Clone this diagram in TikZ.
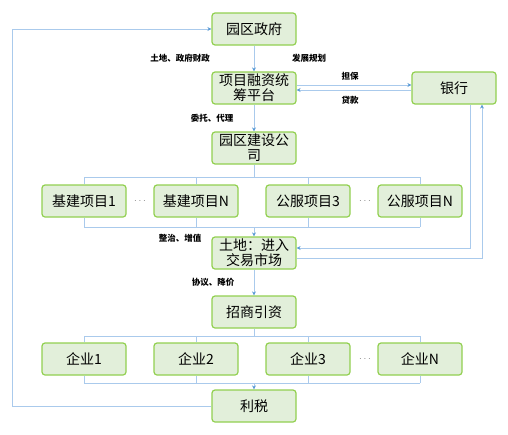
\documentclass[tikz,border=0pt]{standalone}
\usepackage{fontspec}
\setmainfont{Noto Sans CJK SC}
\usepackage{xcolor}
\definecolor{boxfill}{RGB}{226,239,218}
\definecolor{boxline}{RGB}{146,208,80}
\definecolor{wire}{RGB}{170,202,236}
\definecolor{tip}{RGB}{91,155,213}
\usetikzlibrary{arrows.meta,calc}
\tikzset{
  box/.style={draw=boxline,fill=boxfill,rounded corners=3pt,line width=1.2pt,%
    minimum width=84pt,minimum height=32pt,inner sep=1pt,align=center,%
    font=\fontsize{14}{15}\selectfont},
  note/.style={font=\fontsize{8.5}{10}\selectfont\bfseries,inner sep=1pt},
  dots/.style={text=gray,inner sep=1pt},
  link/.style={draw=wire,line width=1pt},
  flow/.style={link,-{Stealth[length=4pt,width=4pt,color=tip]}},
}

\begin{document}
\begin{tikzpicture}[x=1pt,y=-1pt]
\useasboundingbox (0,0) rectangle (508,434);
\node[box] (gov)    at (254,29)  {园区政府};
\node[box] (plat)   at (254,88)  {项目融资统\\筹平台};
\node[box] (bank)   at (454,88)  {银行};
\node[box] (build)  at (254,148) {园区建设公\\司};
\node[box] (p1)     at (84,201)  {基建项目1};
\node[box] (p2)     at (196,201) {基建项目N};
\node[box] (p3)     at (308,201) {公服项目3};
\node[box] (p4)     at (420,201) {公服项目N};
\node[box] (land)   at (254,253) {土地：进入\\交易市场};
\node[box] (invest) at (254,312) {招商引资};
\node[box] (e1)     at (84,359)  {企业1};
\node[box] (e2)     at (196,359) {企业2};
\node[box] (e3)     at (308,359) {企业3};
\node[box] (e4)     at (420,359) {企业N};
\node[box] (tax)    at (254,406) {利税};
\node[dots] (d1) at (140,201) {$\cdots$};
\node[dots] (d2) at (365,201) {$\cdots$};
\node[dots] (d3) at (365,359) {$\cdots$};
% labels
\node[note] (landfin) at (180,58)  {土地、政府财政};
\node[note] (plan)    at (309,58)  {发展规划};
\node[note] (guar)    at (350,76)  {担保};
\node[note] (loan)    at (350,100) {贷款};
\node[note] (agent)   at (212,118) {委托、代理};
\node[note] (renew)   at (180,238) {整治、增值};
\node[note] (deal)    at (213,282) {协议、降价};
% bus lines
\coordinate (top1) at (254,177);
\coordinate (bot1) at (254,227);
\coordinate (top2) at (254,336);
\coordinate (bot2) at (254,383);
\coordinate (loop) at (12,0);
\draw[flow] (gov) -- (plat);
\draw[flow] ([yshift=3pt]plat.east) -- ([yshift=3pt]bank.west);
\draw[flow] ([yshift=-2pt]bank.west) -- ([yshift=-2pt]plat.east);
\draw[flow] (plat) -- (build);
\draw[link] (build) -- (top1);
\draw[link] (p1.north |- top1) -- (p4.north |- top1);
\draw[link] (p1.south |- bot1) -- (p4.south |- bot1);
\foreach \p in {p1,p2,p3,p4} {
  \draw[link] (\p.north) -- (\p.north |- top1);
  \draw[link] (\p.south) -- (\p.south |- bot1);
}
\draw[flow] (bot1) -- (land);
\draw[flow] ([xshift=16pt]bank.south) |- ([yshift=5pt]land.east);
\draw[flow] ([yshift=-5pt]land.east) -| ([xshift=28pt]bank.south);
\draw[flow] (land) -- (invest);
\draw[link] (invest) -- (top2);
\draw[link] (e1.north |- top2) -- (e4.north |- top2);
\draw[link] (e1.south |- bot2) -- (e4.south |- bot2);
\foreach \e in {e1,e2,e3,e4} {
  \draw[link] (\e.north) -- (\e.north |- top2);
  \draw[link] (\e.south) -- (\e.south |- bot2);
}
\draw[flow] (bot2) -- (tax);
\draw[flow] (tax.west) -- (tax.west -| loop) |- (gov.west);
\end{tikzpicture}
\end{document}
